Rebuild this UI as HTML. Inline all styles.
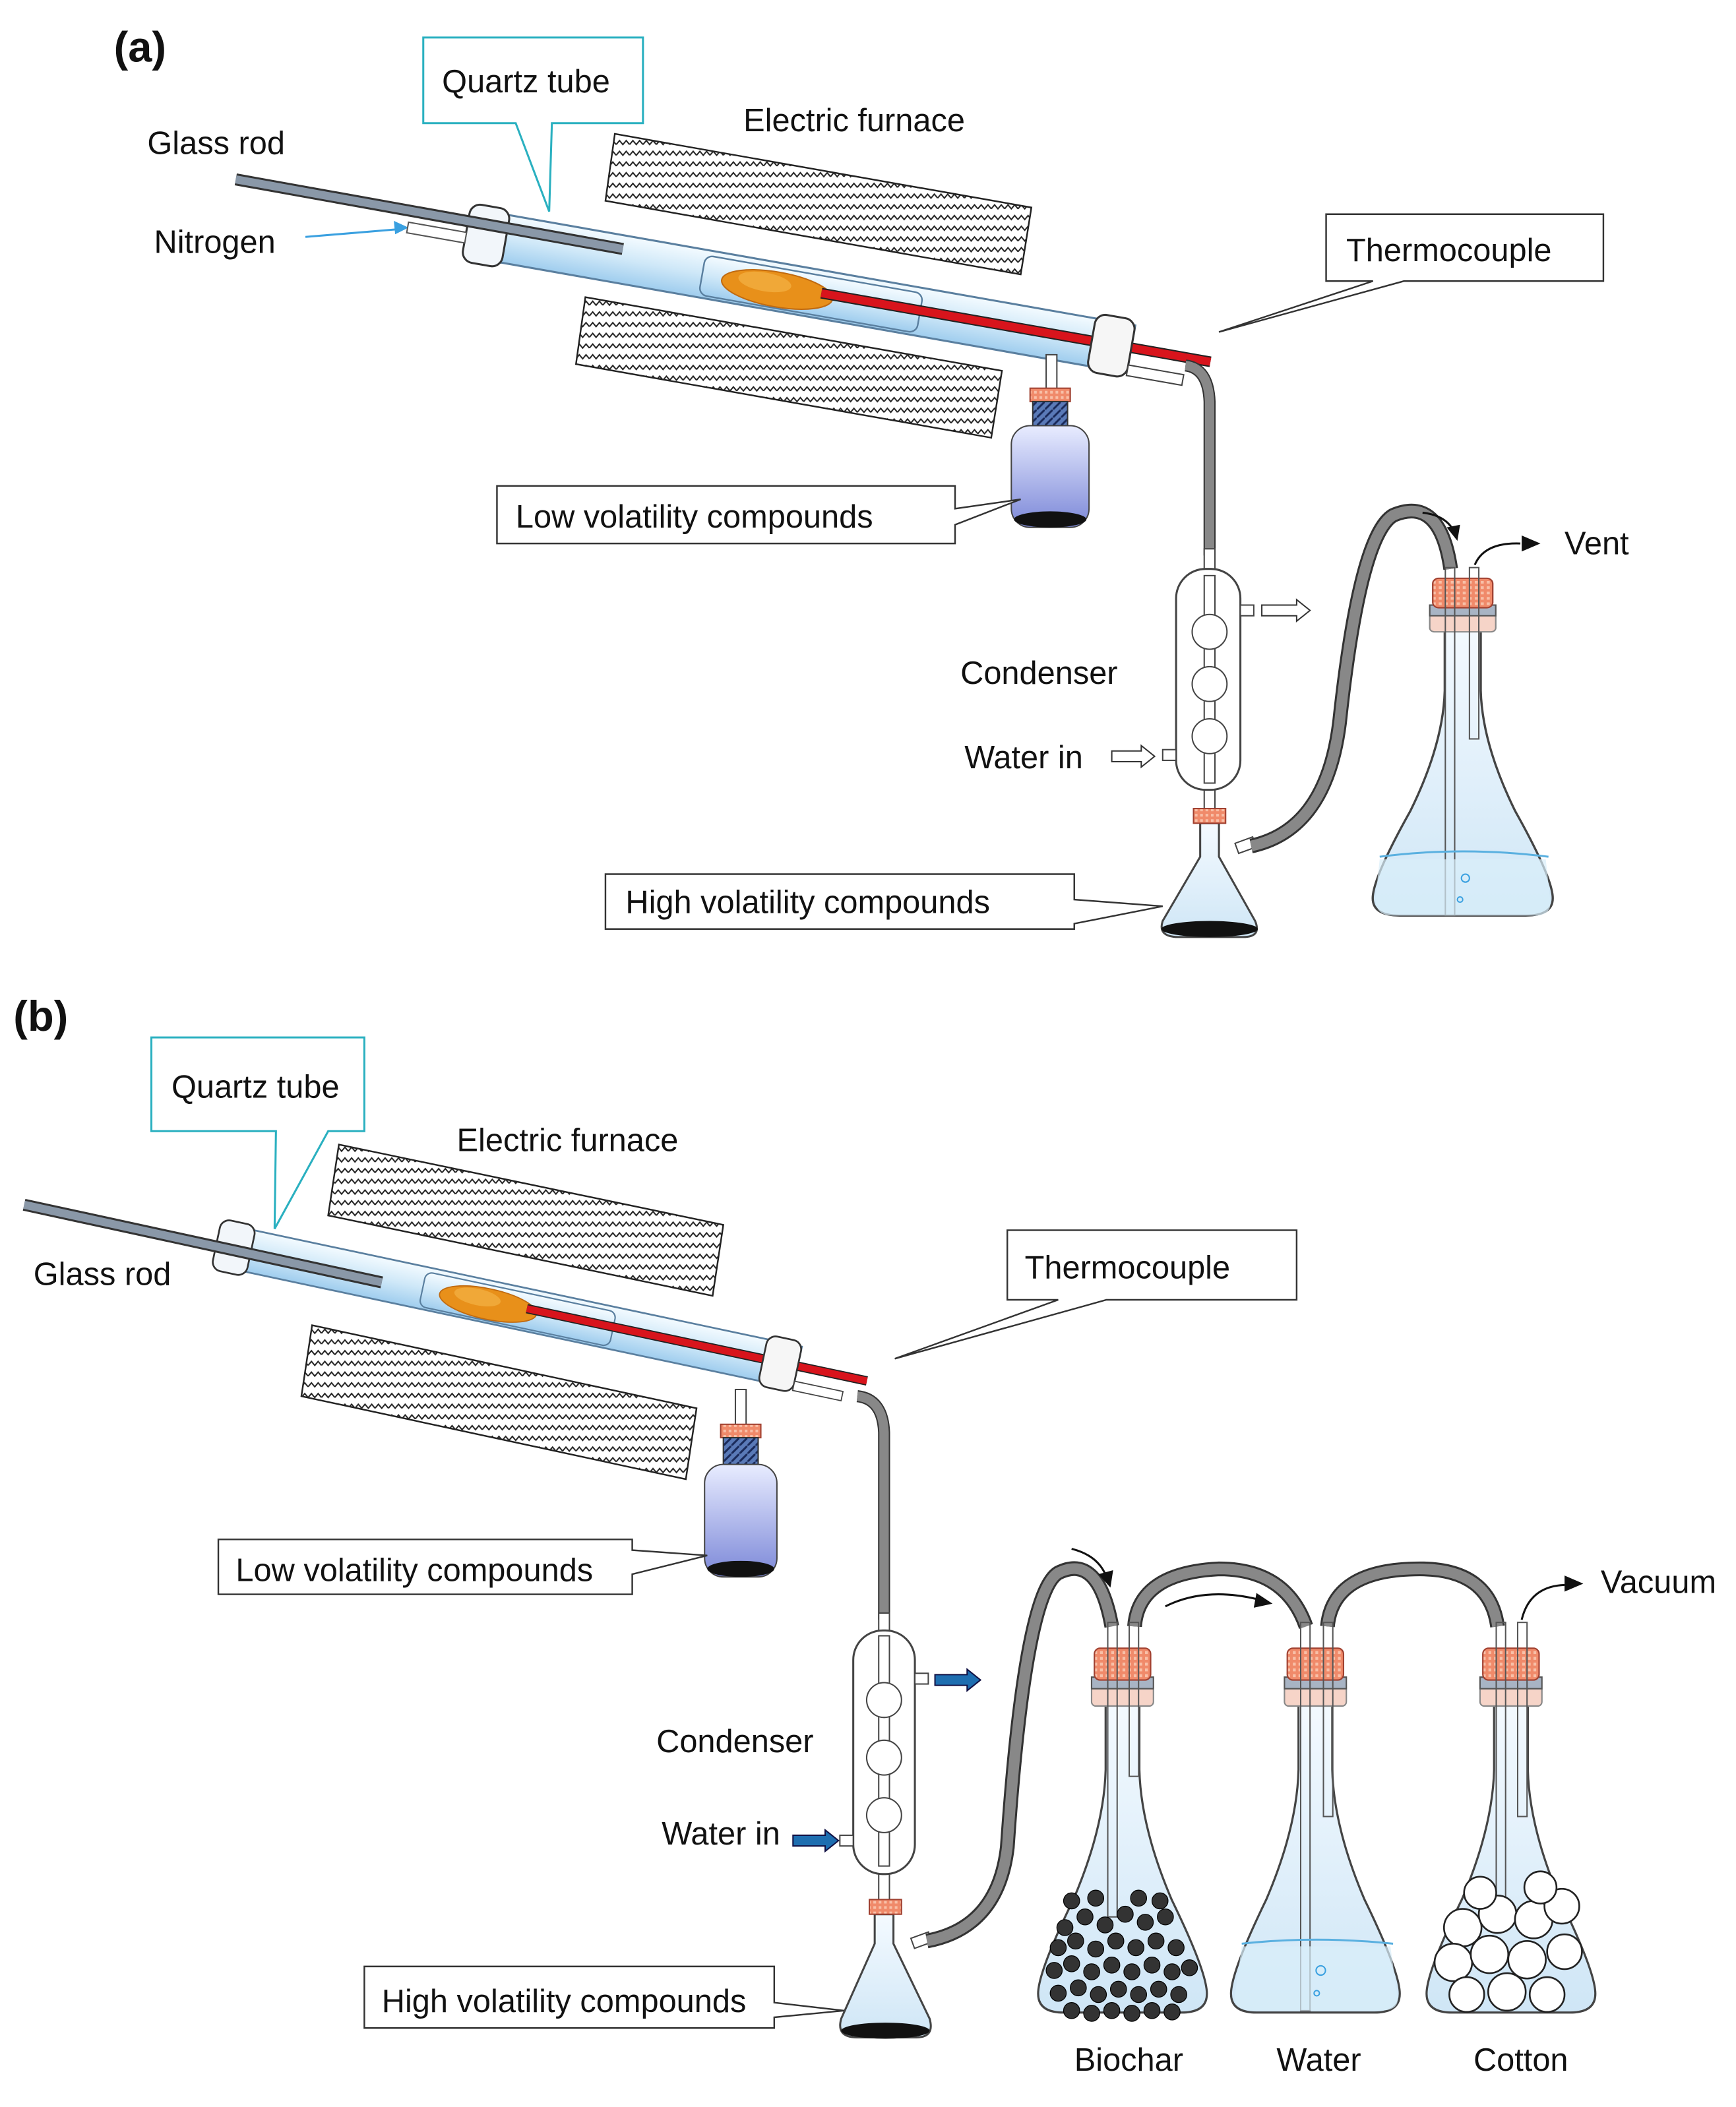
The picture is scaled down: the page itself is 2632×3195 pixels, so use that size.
<!DOCTYPE html>
<html><head><meta charset="utf-8"><style>
html,body{margin:0;padding:0;background:#fff}
svg{display:block}
text{font-family:"Liberation Sans",sans-serif;font-size:24px;fill:#111}
</style></head><body>
<svg width="2632" height="3195" viewBox="0 0 1296 1574" preserveAspectRatio="none" xmlns="http://www.w3.org/2000/svg">
<defs>
<pattern id="zz" width="10" height="8" patternUnits="userSpaceOnUse">
<rect width="10" height="8" fill="#fff"/>
<path d="M0 4 L2.5 1 L5 4 L7.5 1 L10 4" stroke="#222" stroke-width="1" fill="none"/>
</pattern>
<linearGradient id="tube" x1="0" y1="0" x2="0" y2="1">
<stop offset="0" stop-color="#f4fbff"/><stop offset="0.5" stop-color="#cfe8f8"/><stop offset="1" stop-color="#9fcdee"/>
</linearGradient>
<linearGradient id="bottle" x1="0" y1="0" x2="0" y2="1">
<stop offset="0" stop-color="#e8ecff"/><stop offset="1" stop-color="#7c88d8"/>
</linearGradient>
<linearGradient id="flask" x1="0" y1="0" x2="0" y2="1">
<stop offset="0" stop-color="#f4faff"/><stop offset="1" stop-color="#cfe6f6"/>
</linearGradient>
<pattern id="cork" width="4" height="4" patternUnits="userSpaceOnUse">
<rect width="4" height="4" fill="#f08a6a"/><rect width="2" height="2" fill="#f8c0a8"/>
</pattern>
<pattern id="coil" width="6" height="6" patternUnits="userSpaceOnUse">
<rect width="6" height="6" fill="#5a7ab8"/><path d="M0 6 L6 0" stroke="#1a2a5a" stroke-width="1.5"/>
</pattern>
<g id="tubeasm">
<rect x="0" y="-18" width="500" height="36" fill="url(#tube)" stroke="#5a7f9f" stroke-width="1.5"/>
<rect x="175" y="-14" width="165" height="30" fill="url(#tube)" stroke="#5a7f9f" stroke-width="1.2" rx="6"/>
<ellipse cx="232" cy="2" rx="42" ry="13" fill="#e8901a" stroke="#c06a10"/>
<ellipse cx="222" cy="-2" rx="20" ry="7" fill="#f0a838"/>
<line x1="265" y1="-1" x2="560" y2="-1" stroke="#222" stroke-width="8"/>
<line x1="265" y1="-1" x2="560" y2="-1" stroke="#d8141c" stroke-width="6"/>
<rect x="-4" y="-22" width="30" height="44" rx="8" fill="#f2f6fa" stroke="#333" stroke-width="1.5"/>
<rect x="470" y="-22" width="30" height="44" rx="8" fill="#f6f6f6" stroke="#333" stroke-width="1.5"/>
<rect x="500" y="12" width="42" height="8" fill="#fff" stroke="#444"/>
</g>
<g id="erl">
<path d="M-12 0 L-12 50 Q-13 90 -35 140 Q-60 190 -60 205 Q-60 218 -42 218 L42 218 Q60 218 60 205 Q60 190 35 140 Q13 90 12 50 L12 0 Z" fill="url(#flask)" stroke="#444" stroke-width="1.5"/>
<rect x="-22" y="-8" width="44" height="14" rx="3" fill="#f6d4c8" stroke="#888"/>
<rect x="-22" y="-14" width="44" height="8" fill="#a8b4c4" stroke="#555"/>
<rect x="-20" y="-34" width="40" height="22" rx="4" fill="url(#cork)" stroke="#a04030"/>
</g>
</defs>

<!-- ===== (a) ===== -->
<text x="85" y="46" style="font-size:32px;font-weight:bold">(a)</text>
<polygon points="459,100 770,155 762,205 452,150" fill="url(#zz)" stroke="#222" stroke-width="1.2"/>
<polygon points="437,222 748,277 740,327 430,272" fill="url(#zz)" stroke="#222" stroke-width="1.2"/>
<g transform="translate(352,174) rotate(10)"><use href="#tubeasm"/></g>
<line x1="176" y1="134" x2="465" y2="186" stroke="#333" stroke-width="9"/>
<line x1="176" y1="134" x2="465" y2="186" stroke="#8a98a8" stroke-width="6"/>
<line x1="228" y1="177" x2="300" y2="171" stroke="#3aa0e0" stroke-width="1.5"/>
<polygon points="305,170 294,165 295,175" fill="#3aa0e0"/>
<rect x="305" y="166" width="44" height="8" fill="#fff" stroke="#555" transform="rotate(10 305 166)"/>
<text x="110" y="115">Glass rod</text>
<text x="115" y="189">Nitrogen</text>
<text x="555" y="98">Electric furnace</text>
<path d="M316 28 H480 V92 H412 L410 158 L385 92 H316 Z" fill="#fff" stroke="#2ab0c0" stroke-width="1.5"/>
<text x="330" y="69">Quartz tube</text>
<path d="M990 160 H1197 V210 H1048 L910 248 L1025 210 H990 Z" fill="#fff" stroke="#333" stroke-width="1.2"/>
<text x="1005" y="195">Thermocouple</text>
<!-- bottle a -->
<rect x="781" y="265" width="8" height="28" fill="#fff" stroke="#444"/>
<rect x="769" y="290" width="30" height="10" fill="url(#cork)" stroke="#a04030"/>
<rect x="771" y="300" width="26" height="20" fill="url(#coil)" stroke="#333"/>
<rect x="755" y="318" width="58" height="76" rx="14" fill="url(#bottle)" stroke="#444"/>
<ellipse cx="784" cy="388" rx="27" ry="6" fill="#111"/>
<path d="M371 363 H713 V380 L762 373 L713 392 V406 H371 Z" fill="#fff" stroke="#333" stroke-width="1.2"/>
<text x="385" y="394">Low volatility compounds</text>
<!-- hose a -->
<path d="M885 273 Q902 275 903 300 L903 415" stroke="#333" stroke-width="9" fill="none"/>
<path d="M885 273 Q902 275 903 300 L903 415" stroke="#888" stroke-width="7" fill="none"/>
<!-- condenser a -->
<rect x="899" y="410" width="8" height="200" fill="#fff" stroke="#444"/>
<rect x="878" y="425" width="48" height="165" rx="22" fill="#fff" stroke="#444" stroke-width="1.5"/>
<rect x="899" y="430" width="8" height="155" fill="#fff" stroke="#444"/>
<circle cx="903" cy="472" r="13" fill="#fff" stroke="#444"/>
<circle cx="903" cy="511" r="13" fill="#fff" stroke="#444"/>
<circle cx="903" cy="550" r="13" fill="#fff" stroke="#444"/>
<rect x="926" y="452" width="10" height="8" fill="#fff" stroke="#444"/>
<rect x="868" y="560" width="10" height="8" fill="#fff" stroke="#444"/>
<path d="M942 452 H968 V448 L978 456 L968 464 V460 H942 Z" fill="#fff" stroke="#333"/>
<path d="M830 561 H852 V557 L862 565 L852 573 V569 H830 Z" fill="#fff" stroke="#333"/>
<text x="717" y="511">Condenser</text>
<text x="720" y="574">Water in</text>
<!-- small flask a -->
<path d="M896 615 L896 640 L868 688 Q864 700 880 700 L928 700 Q942 700 937 688 L910 640 L910 615 Z" fill="url(#flask)" stroke="#444" stroke-width="1.5"/>
<ellipse cx="903" cy="694" rx="36" ry="6" fill="#111"/>
<rect x="891" y="604" width="24" height="11" fill="url(#cork)" stroke="#a04030"/>
<rect x="922" y="630" width="14" height="8" fill="#fff" stroke="#444" transform="rotate(-20 922 630)"/>
<path d="M452 653 H802 V672 L868 677 L802 690 V694 H452 Z" fill="#fff" stroke="#333" stroke-width="1.2"/>
<text x="467" y="682">High volatility compounds</text>
<!-- hose to big flask a -->
<path d="M934 632 Q990 620 1000 540 Q1015 400 1040 385 Q1075 370 1083 425" stroke="#333" stroke-width="11" fill="none"/>
<path d="M934 632 Q990 620 1000 540 Q1015 400 1040 385 Q1075 370 1083 425" stroke="#888" stroke-width="8" fill="none"/>
<path d="M1062 383 Q1080 385 1086 398" stroke="#111" stroke-width="1.5" fill="none"/>
<polygon points="1088,404 1080,394 1090,392" fill="#111"/>
<g transform="translate(1092,466)">
<use href="#erl" transform="scale(1.12,1.0)"/>
</g>
<rect x="1079" y="424" width="7" height="260" fill="none" stroke="#555"/>
<rect x="1097" y="424" width="7" height="128" fill="none" stroke="#555"/>
<path d="M1030 640 Q1092 632 1156 640" stroke="#5ab0e0" stroke-width="1.5" fill="none"/>
<path d="M1030 642 L1027 670 Q1026 684 1040 684 L1145 684 Q1160 684 1157 670 L1154 642 Z" fill="#d8eefa" opacity="0.7"/>
<circle cx="1094" cy="656" r="3" fill="none" stroke="#3aa0e0"/>
<circle cx="1090" cy="672" r="2" fill="none" stroke="#3aa0e0"/>
<path d="M1101 422 Q1108 405 1135 406" stroke="#111" stroke-width="1.5" fill="none"/>
<polygon points="1150,406 1136,400 1136,412" fill="#111"/>
<text x="1168" y="414">Vent</text>

<!-- ===== (b) ===== -->
<text x="10" y="770" style="font-size:32px;font-weight:bold">(b)</text>
<polygon points="253,855 540,915 532,968 245,908" fill="url(#zz)" stroke="#222" stroke-width="1.2"/>
<polygon points="233,990 520,1052 512,1105 225,1043" fill="url(#zz)" stroke="#222" stroke-width="1.2"/>
<g transform="translate(165,930) rotate(12) scale(0.88)"><use href="#tubeasm"/></g>
<line x1="18" y1="900" x2="285" y2="958" stroke="#333" stroke-width="9"/>
<line x1="18" y1="900" x2="285" y2="958" stroke="#8a98a8" stroke-width="6"/>
<text x="25" y="960">Glass rod</text>
<text x="341" y="860">Electric furnace</text>
<path d="M113 775 H272 V845 H245 L205 918 L206 845 H113 Z" fill="#fff" stroke="#2ab0c0" stroke-width="1.5"/>
<text x="128" y="820">Quartz tube</text>
<path d="M752 919 H968 V971 H826 L668 1015 L790 971 H752 Z" fill="#fff" stroke="#333" stroke-width="1.2"/>
<text x="765" y="955">Thermocouple</text>
<!-- bottle b -->
<rect x="549" y="1038" width="8" height="28" fill="#fff" stroke="#444"/>
<rect x="538" y="1064" width="30" height="10" fill="url(#cork)" stroke="#a04030"/>
<rect x="540" y="1074" width="26" height="22" fill="url(#coil)" stroke="#333"/>
<rect x="526" y="1094" width="54" height="84" rx="14" fill="url(#bottle)" stroke="#444"/>
<ellipse cx="553" cy="1172" rx="25" ry="6" fill="#111"/>
<path d="M163 1150 H472 V1158 L528 1162 L472 1176 V1191 H163 Z" fill="#fff" stroke="#333" stroke-width="1.2"/>
<text x="176" y="1181">Low volatility compounds</text>
<!-- hose b -->
<path d="M640 1043 Q659 1045 660 1070 L660 1210" stroke="#333" stroke-width="9" fill="none"/>
<path d="M640 1043 Q659 1045 660 1070 L660 1210" stroke="#888" stroke-width="7" fill="none"/>
<!-- condenser b -->
<rect x="656" y="1205" width="8" height="220" fill="#fff" stroke="#444"/>
<rect x="637" y="1218" width="46" height="182" rx="22" fill="#fff" stroke="#444" stroke-width="1.5"/>
<rect x="656" y="1222" width="8" height="172" fill="#fff" stroke="#444"/>
<circle cx="660" cy="1270" r="13" fill="#fff" stroke="#444"/>
<circle cx="660" cy="1313" r="13" fill="#fff" stroke="#444"/>
<circle cx="660" cy="1356" r="13" fill="#fff" stroke="#444"/>
<rect x="683" y="1250" width="10" height="8" fill="#fff" stroke="#444"/>
<rect x="627" y="1371" width="10" height="8" fill="#fff" stroke="#444"/>
<path d="M698 1251 H722 V1247 L732 1255 L722 1263 V1259 H698 Z" fill="#1e6eb0" stroke="#114"/>
<path d="M592 1371 H616 V1367 L626 1375 L616 1383 V1379 H592 Z" fill="#1e6eb0" stroke="#114"/>
<text x="490" y="1309">Condenser</text>
<text x="494" y="1378">Water in</text>
<!-- small flask b -->
<path d="M653 1430 L653 1452 L628 1508 Q624 1522 640 1522 L684 1522 Q698 1522 694 1508 L667 1452 L667 1430 Z" fill="url(#flask)" stroke="#444" stroke-width="1.5"/>
<ellipse cx="661" cy="1517" rx="33" ry="6" fill="#111"/>
<rect x="649" y="1419" width="24" height="11" fill="url(#cork)" stroke="#a04030"/>
<rect x="680" y="1448" width="14" height="8" fill="#fff" stroke="#444" transform="rotate(-20 680 1448)"/>
<path d="M272 1469 H578 V1496 L630 1502 L578 1507 V1515 H272 Z" fill="#fff" stroke="#333" stroke-width="1.2"/>
<text x="285" y="1503">High volatility compounds</text>
<!-- hoses b -->
<g fill="none">
<path d="M692 1450 Q745 1440 752 1380 Q765 1190 790 1175 Q820 1160 830 1215" stroke="#333" stroke-width="11"/>
<path d="M692 1450 Q745 1440 752 1380 Q765 1190 790 1175 Q820 1160 830 1215" stroke="#888" stroke-width="8"/>
<path d="M847 1215 Q850 1175 910 1172 Q960 1172 975 1215" stroke="#333" stroke-width="11"/>
<path d="M847 1215 Q850 1175 910 1172 Q960 1172 975 1215" stroke="#888" stroke-width="8"/>
<path d="M991 1215 Q995 1172 1060 1172 Q1112 1172 1118 1215" stroke="#333" stroke-width="11"/>
<path d="M991 1215 Q995 1172 1060 1172 Q1112 1172 1118 1215" stroke="#888" stroke-width="8"/>
<path d="M800 1157 Q820 1162 826 1178" stroke="#111" stroke-width="1.5"/>
<path d="M870 1200 Q900 1185 940 1195" stroke="#111" stroke-width="1.5"/>
<path d="M1136 1210 Q1142 1185 1168 1184" stroke="#111" stroke-width="1.5"/>
</g>
<polygon points="829,1186 820,1176 831,1173" fill="#111"/>
<polygon points="950,1198 938,1190 936,1201" fill="#111"/>
<polygon points="1182,1183 1168,1177 1168,1189" fill="#111"/>
<text x="1195" y="1190">Vacuum</text>
<!-- three flasks -->
<g transform="translate(838,1268)"><use href="#erl" transform="scale(1.05,1.08)"/></g>
<rect x="827" y="1212" width="7" height="220" fill="none" stroke="#555"/>
<rect x="843" y="1212" width="7" height="115" fill="none" stroke="#555"/>
<g fill="#333" stroke="#000" stroke-width="0.6">
<circle cx="795" cy="1440" r="6"/><circle cx="810" cy="1432" r="6"/><circle cx="825" cy="1438" r="6"/><circle cx="840" cy="1430" r="6"/><circle cx="855" cy="1436" r="6"/><circle cx="870" cy="1432" r="6"/>
<circle cx="790" cy="1455" r="6"/><circle cx="803" cy="1450" r="6"/><circle cx="818" cy="1456" r="6"/><circle cx="833" cy="1450" r="6"/><circle cx="848" cy="1455" r="6"/><circle cx="863" cy="1450" r="6"/><circle cx="878" cy="1455" r="6"/>
<circle cx="787" cy="1472" r="6"/><circle cx="800" cy="1467" r="6"/><circle cx="815" cy="1473" r="6"/><circle cx="830" cy="1468" r="6"/><circle cx="845" cy="1473" r="6"/><circle cx="860" cy="1468" r="6"/><circle cx="875" cy="1473" r="6"/><circle cx="888" cy="1470" r="6"/>
<circle cx="790" cy="1489" r="6"/><circle cx="805" cy="1485" r="6"/><circle cx="820" cy="1490" r="6"/><circle cx="835" cy="1486" r="6"/><circle cx="850" cy="1490" r="6"/><circle cx="865" cy="1486" r="6"/><circle cx="880" cy="1490" r="6"/>
<circle cx="800" cy="1502" r="6"/><circle cx="815" cy="1504" r="6"/><circle cx="830" cy="1502" r="6"/><circle cx="845" cy="1504" r="6"/><circle cx="860" cy="1502" r="6"/><circle cx="875" cy="1503" r="6"/>
<circle cx="800" cy="1420" r="6"/><circle cx="818" cy="1418" r="6"/><circle cx="850" cy="1418" r="6"/><circle cx="866" cy="1420" r="6"/>
</g>
<g transform="translate(982,1268)"><use href="#erl" transform="scale(1.05,1.08)"/></g>
<rect x="971" y="1212" width="7" height="290" fill="none" stroke="#555"/>
<rect x="988" y="1212" width="7" height="145" fill="none" stroke="#555"/>
<path d="M927 1452 Q982 1446 1040 1452" stroke="#5ab0e0" stroke-width="1.5" fill="none"/>
<path d="M927 1454 L922 1490 Q920 1502 936 1502 L1030 1502 Q1046 1502 1043 1490 L1038 1454 Z" fill="#d8eefa" opacity="0.7"/>
<circle cx="986" cy="1472" r="3.5" fill="none" stroke="#3aa0e0"/>
<circle cx="983" cy="1489" r="2" fill="none" stroke="#3aa0e0"/>
<g transform="translate(1128,1268)"><use href="#erl" transform="scale(1.05,1.08)"/></g>
<rect x="1117" y="1212" width="7" height="215" fill="none" stroke="#555"/>
<rect x="1133" y="1212" width="7" height="145" fill="none" stroke="#555"/>
<g fill="#fff" stroke="#222" stroke-width="1.3">
<circle cx="1092" cy="1440" r="14"/><circle cx="1118" cy="1430" r="14"/><circle cx="1145" cy="1434" r="14"/><circle cx="1166" cy="1424" r="13"/>
<circle cx="1085" cy="1466" r="14"/><circle cx="1112" cy="1460" r="14"/><circle cx="1140" cy="1464" r="14"/><circle cx="1168" cy="1458" r="13"/>
<circle cx="1095" cy="1490" r="13"/><circle cx="1125" cy="1488" r="14"/><circle cx="1155" cy="1490" r="13"/><circle cx="1105" cy="1414" r="12"/><circle cx="1150" cy="1410" r="12"/>
</g>
<text x="802" y="1547">Biochar</text>
<text x="953" y="1547">Water</text>
<text x="1100" y="1547">Cotton</text>
</svg>
</body></html>
